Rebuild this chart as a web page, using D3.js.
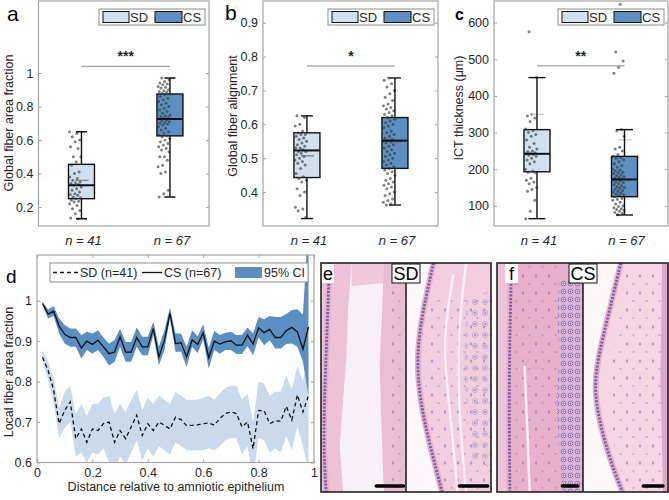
<!DOCTYPE html>
<html><head><meta charset="utf-8">
<script src="https://cdn.jsdelivr.net/npm/d3@7"></script>
<style>body{margin:0;background:#fff}svg{display:block;font-family:"Liberation Sans",Arial,sans-serif}</style>
</head><body><svg id="c" width="669" height="500"></svg>
<script>
// ---------------- DATA ----------------
const groups = ["SD", "CS"];
const nLabels = ["n = 41", "n = 67"];

// panel a: global fiber area fraction (individual samples)
const aSD = [0.65,0.64,0.62,0.60,0.59,0.56,0.55,0.50,0.50,0.47,0.45,0.41,0.40,0.38,0.37,0.36,0.35,0.345,0.34,0.335,0.33,0.32,0.31,0.30,0.29,0.28,0.275,0.27,0.26,0.255,0.25,0.24,0.235,0.23,0.22,0.21,0.19,0.18,0.16,0.135,0.13];
const aCS = [0.97,0.96,0.95,0.94,0.935,0.93,0.92,0.915,0.91,0.90,0.895,0.89,0.885,0.88,0.875,0.87,0.86,0.85,0.84,0.83,0.82,0.81,0.80,0.79,0.78,0.77,0.76,0.75,0.745,0.74,0.735,0.73,0.725,0.72,0.715,0.71,0.705,0.70,0.695,0.69,0.68,0.67,0.66,0.65,0.64,0.63,0.625,0.62,0.61,0.60,0.59,0.58,0.57,0.56,0.55,0.54,0.53,0.50,0.50,0.48,0.45,0.44,0.41,0.40,0.30,0.28,0.26];
// box stats: [whiskerLow, q1, median, q3, whiskerHigh, mean]
const aStatsSD = [0.13, 0.25, 0.33, 0.455, 0.65, 0.36];
const aStatsCS = [0.26, 0.625, 0.725, 0.875, 0.97, 0.725];
const aTicks = [0.2, 0.4, 0.6, 0.8, 1];
const aSig = [1.04, "***"];

// panel b: global fiber alignment
const bSD = [0.625,0.62,0.60,0.595,0.58,0.575,0.57,0.57,0.565,0.56,0.555,0.55,0.545,0.54,0.535,0.53,0.53,0.525,0.52,0.52,0.515,0.51,0.505,0.50,0.495,0.49,0.485,0.48,0.47,0.455,0.445,0.44,0.435,0.43,0.41,0.40,0.39,0.355,0.35,0.345,0.325];
const bCS = [0.737,0.73,0.72,0.71,0.70,0.69,0.68,0.67,0.66,0.655,0.65,0.645,0.64,0.635,0.63,0.625,0.62,0.615,0.61,0.605,0.60,0.595,0.59,0.58,0.575,0.57,0.565,0.56,0.555,0.552,0.55,0.548,0.545,0.54,0.535,0.53,0.525,0.52,0.515,0.51,0.505,0.50,0.495,0.49,0.485,0.48,0.475,0.47,0.465,0.46,0.455,0.45,0.44,0.435,0.43,0.425,0.42,0.415,0.41,0.40,0.395,0.39,0.38,0.375,0.37,0.365,0.362];
const bStatsSD = [0.322, 0.443, 0.523, 0.575, 0.625, 0.507];
const bStatsCS = [0.362, 0.47, 0.552, 0.62, 0.737, 0.548];
const bTicks = [0.4, 0.5, 0.6, 0.7, 0.8, 0.9];
const bSig = [0.772, "*"];

// panel c: ICT thickness (um)
const cSD = [575,450,350,345,340,330,310,305,300,295,290,280,270,260,255,250,248,245,243,242,240,238,235,230,225,220,215,200,195,192,190,175,170,165,160,150,145,140,115,85,65];
const cCS = [650,520,495,478,462,308,305,290,260,255,250,240,235,232,230,225,220,215,210,205,200,198,195,192,190,188,185,182,180,178,175,173,172,170,168,165,163,160,158,155,152,150,148,145,142,140,138,135,132,130,128,125,120,118,115,110,105,100,98,95,92,90,88,85,82,80,76];
const cStatsSD = [65, 193, 242, 308, 450, 350];
const cStatsCS = [75, 125, 172, 235, 308, 280];
const cTicks = [100, 200, 300, 400, 500, 600];
const cSig = [482, "**"];

// panel d: local fiber area fraction vs relative distance
const dX = [0.02,0.04,0.06,0.08,0.10,0.12,0.14,0.16,0.18,0.20,0.22,0.24,0.26,0.28,0.30,0.32,0.34,0.36,0.38,0.40,0.42,0.44,0.46,0.48,0.50,0.52,0.54,0.56,0.58,0.60,0.62,0.64,0.66,0.68,0.70,0.72,0.74,0.76,0.78,0.80,0.82,0.84,0.86,0.88,0.90,0.92,0.94,0.96,0.98];
const csMean = [0.993,0.967,0.974,0.937,0.917,0.909,0.909,0.883,0.900,0.892,0.902,0.886,0.869,0.873,0.911,0.873,0.873,0.909,0.886,0.886,0.931,0.861,0.902,0.969,0.894,0.896,0.861,0.903,0.892,0.920,0.859,0.900,0.893,0.898,0.901,0.890,0.890,0.915,0.893,0.933,0.921,0.929,0.909,0.909,0.926,0.934,0.923,0.880,0.935];
const csHi = [0.997,0.978,0.987,0.956,0.940,0.931,0.931,0.915,0.923,0.919,0.927,0.909,0.894,0.902,0.931,0.898,0.898,0.934,0.911,0.911,0.948,0.886,0.927,0.983,0.919,0.919,0.886,0.927,0.912,0.942,0.883,0.925,0.915,0.921,0.923,0.915,0.915,0.934,0.919,0.960,0.954,0.962,0.960,0.960,0.967,0.977,0.979,0.965,1.200];
const csLo = [0.989,0.956,0.962,0.919,0.894,0.886,0.886,0.857,0.878,0.869,0.878,0.861,0.840,0.849,0.886,0.849,0.849,0.886,0.865,0.865,0.915,0.840,0.878,0.956,0.874,0.874,0.836,0.886,0.871,0.904,0.832,0.879,0.869,0.878,0.878,0.868,0.868,0.888,0.865,0.909,0.890,0.902,0.882,0.882,0.893,0.894,0.886,0.850,0.765];
const sdMean = [0.860,0.828,0.779,0.696,0.729,0.750,0.659,0.683,0.650,0.683,0.679,0.696,0.700,0.650,0.679,0.659,0.688,0.717,0.667,0.696,0.679,0.700,0.692,0.683,0.712,0.706,0.691,0.692,0.693,0.696,0.698,0.692,0.709,0.721,0.725,0.721,0.688,0.700,0.634,0.729,0.728,0.696,0.703,0.702,0.739,0.705,0.767,0.725,0.765];
const sdHi = [0.878,0.850,0.810,0.735,0.775,0.790,0.720,0.745,0.715,0.745,0.745,0.760,0.765,0.720,0.745,0.725,0.755,0.780,0.730,0.760,0.745,0.765,0.755,0.745,0.775,0.765,0.755,0.755,0.755,0.760,0.765,0.755,0.770,0.785,0.790,0.790,0.755,0.770,0.700,0.800,0.795,0.765,0.775,0.775,0.815,0.780,0.840,0.800,0.870];
const sdLo = [0.848,0.805,0.745,0.660,0.685,0.700,0.615,0.625,0.600,0.625,0.620,0.635,0.600,0.575,0.615,0.595,0.625,0.655,0.605,0.635,0.615,0.640,0.630,0.620,0.650,0.640,0.630,0.630,0.630,0.630,0.635,0.630,0.640,0.655,0.660,0.660,0.620,0.640,0.560,0.660,0.655,0.625,0.635,0.625,0.665,0.630,0.690,0.640,0.580];
const dYTicks = [0.6, 0.7, 0.8, 0.9, 1];
const dXTicks = [0, 0.2, 0.4, 0.6, 0.8, 1];
const dLegend = ["SD (n=41)", "CS (n=67)", "95% CI"];

// ---------------- STYLE ----------------
const C_SD = "#cfe0ee", C_CS = "#5d90c2", C_BAND_SD = "#c8daeb", C_BAND_CS = "#5a8fc3";
const C_FRAME = "#a3a3a3", C_TXT = "#262626";
const svg = d3.select("#c");
const defs = svg.append("defs");

// ---------------- BOX PANELS ----------------
const boxPanels = [
  {L:38.5, R:209, T:1, B:226, dom:[0.087,1.43], ticks:aTicks, data:[aSD,aCS], stats:[aStatsSD,aStatsCS], sig:aSig,
   cx:[0.252,0.771], ylab:"Global fiber area fraction", ylabX:13, ylabY:123, letter:"a", lx:7, ly:21, lsize:21, lweight:400,
   cap:11, meanCol:"#6b6b6b"},
  {L:263, R:438, T:1, B:226, dom:[0.3,0.964], ticks:bTicks, data:[bSD,bCS], stats:[bStatsSD,bStatsCS], sig:bSig,
   cx:[0.251,0.754], ylab:"Global fiber alignment", ylabX:237, ylabY:116, letter:"b", lx:225, ly:20, lsize:21, lweight:400,
   cap:12, meanCol:"#6b6b6b"},
  {L:494, R:668, T:1, B:226, dom:[45,659], ticks:cTicks, data:[cSD,cCS], stats:[cStatsSD,cStatsCS], sig:cSig,
   cx:[0.247,0.75], ylab:"ICT thickness (\u03bcm)", ylabX:463, ylabY:108, letter:"c", lx:455, ly:20, lsize:16, lweight:700,
   cap:17, meanCol:"#c4c4c4"}
];

boxPanels.forEach((p, pi) => {
  const g = svg.append("g");
  const y = d3.scaleLinear().domain(p.dom).range([p.B, p.T]);
  const w = p.R - p.L;
  const x = d3.scalePoint().domain(groups).range([p.L + p.cx[0]*w, p.L + p.cx[1]*w]);
  const cid = "clipbox" + pi;
  defs.append("clipPath").attr("id", cid).append("rect").attr("x", p.L).attr("y", p.T).attr("width", w).attr("height", p.B - p.T);

  const ay = g.append("g").attr("transform", `translate(${p.L},0)`)
    .call(d3.axisLeft(y).tickValues(p.ticks).tickSize(-3).tickPadding(5).tickFormat(d3.format("~g")));
  ay.select(".domain").remove();
  ay.selectAll("line").attr("stroke", C_FRAME);
  ay.selectAll("text").attr("fill", C_TXT).style("font-size", "12.5px");
  const ar = g.append("g").attr("transform", `translate(${p.R},0)`)
    .call(d3.axisRight(y).tickValues(p.ticks).tickSize(-3).tickFormat(""));
  ar.select(".domain").remove();
  ar.selectAll("line").attr("stroke", C_FRAME);

  const bw = 26;
  groups.forEach((grp, gi) => {
    const s = p.stats[gi];
    const cx = x(grp);
    const bg = g.append("g").attr("clip-path", `url(#${cid})`);
    bg.append("rect").attr("x", cx - bw/2).attr("y", y(s[3])).attr("width", bw).attr("height", y(s[1]) - y(s[3]))
      .attr("fill", gi === 0 ? C_SD : C_CS).attr("stroke", "#111").attr("stroke-width", 1.4);
    bg.selectAll(null).data(p.data[gi]).join("circle")
      .attr("cx", (d, i) => cx - 12 + 12 * ((i * 0.6180339 + gi * 0.31 + pi * 0.17) % 1))
      .attr("cy", d => y(d)).attr("r", 1.5)
      .attr("fill", "#333").attr("fill-opacity", 0.62);
    bg.append("line").attr("x1", cx - 6).attr("x2", cx + 7).attr("y1", y(s[5])).attr("y2", y(s[5]))
      .attr("stroke", p.meanCol).attr("stroke-width", 1.1);
    bg.append("line").attr("x1", cx - bw/2).attr("x2", cx + bw/2).attr("y1", y(s[2])).attr("y2", y(s[2]))
      .attr("stroke", "#111").attr("stroke-width", 2);
    [[s[3], s[4]], [s[1], s[0]]].forEach(([a, b]) => {
      bg.append("line").attr("x1", cx).attr("x2", cx).attr("y1", y(a)).attr("y2", y(b)).attr("stroke", "#111").attr("stroke-width", 1.4);
      bg.append("line").attr("x1", cx - p.cap/2).attr("x2", cx + p.cap/2).attr("y1", y(b)).attr("y2", y(b)).attr("stroke", "#111").attr("stroke-width", 1.4);
    });
    g.append("text").attr("x", cx + 2).attr("y", 245).attr("text-anchor", "middle")
      .style("font-size", "13px").style("font-style", "italic").attr("fill", C_TXT).text(nLabels[gi]);
  });

  g.append("line").attr("x1", x("SD")).attr("x2", x("CS")).attr("y1", y(p.sig[0])).attr("y2", y(p.sig[0]))
    .attr("stroke", "#8a8a8a").attr("stroke-width", 1);
  g.append("text").attr("x", (x("SD") + x("CS"))/2).attr("y", y(p.sig[0]) - 5).attr("text-anchor", "middle")
    .style("font-size", "14px").style("font-weight", "bold").attr("fill", C_TXT).text(p.sig[1]);

  g.append("rect").attr("x", p.L).attr("y", p.T).attr("width", w).attr("height", p.B - p.T)
    .attr("fill", "none").attr("stroke", C_FRAME).attr("stroke-width", 1.2);

  const lx1 = p.R - 4, lx0 = lx1 - 106;
  const lg = g.append("g");
  lg.append("rect").attr("x", lx0).attr("y", 9).attr("width", 106).attr("height", 16).attr("fill", "#fff").attr("stroke", "#8c8c8c").attr("stroke-width", 1);
  lg.append("rect").attr("x", lx0 + 4).attr("y", 11.5).attr("width", 26).attr("height", 11).attr("fill", C_SD).attr("stroke", "#111");
  lg.append("text").attr("x", lx0 + 31).attr("y", 22).style("font-size", "13px").attr("fill", C_TXT).text(groups[0]);
  lg.append("rect").attr("x", lx0 + 56).attr("y", 11.5).attr("width", 27).attr("height", 11).attr("fill", C_CS).attr("stroke", "#111");
  lg.append("text").attr("x", lx0 + 84).attr("y", 22).style("font-size", "13px").attr("fill", C_TXT).text(groups[1]);

  g.append("text").attr("transform", `translate(${p.ylabX},${p.ylabY}) rotate(-90)`).attr("text-anchor", "middle")
    .style("font-size", "12.5px").attr("fill", C_TXT).text(p.ylab);
  g.append("text").attr("x", p.lx).attr("y", p.ly).style("font-size", p.lsize + "px").style("font-weight", p.lweight)
    .attr("fill", "#000").text(p.letter);
});

// ---------------- PANEL d ----------------
(function(){
  const L = 37, R = 314, T = 255, B = 462.5;
  const x = d3.scaleLinear().domain([0, 1]).range([L, R]);
  const y = d3.scaleLinear().domain([0.6, 1.113]).range([B, T]);
  const g = svg.append("g");
  defs.append("clipPath").attr("id", "clipd").append("rect").attr("x", L).attr("y", T).attr("width", R - L).attr("height", B - T);
  const pg = g.append("g").attr("clip-path", "url(#clipd)");
  const area = (hi, lo) => d3.area().x((d, i) => x(dX[i])).y0((d, i) => y(lo[i])).y1((d, i) => y(hi[i]))(dX);
  const line = arr => d3.line().x((d, i) => x(dX[i])).y((d, i) => y(arr[i]))(dX);
  pg.append("path").attr("d", area(sdHi, sdLo)).attr("fill", C_BAND_SD);
  pg.append("path").attr("d", area(csHi, csLo)).attr("fill", C_BAND_CS);
  pg.append("path").attr("d", line(sdMean)).attr("fill", "none").attr("stroke", "#111").attr("stroke-width", 1.3).attr("stroke-dasharray", "4,3");
  pg.append("path").attr("d", line(csMean)).attr("fill", "none").attr("stroke", "#111").attr("stroke-width", 1.3);

  const ay = g.append("g").attr("transform", `translate(${L},0)`).call(d3.axisLeft(y).tickValues(dYTicks).tickSize(-3).tickPadding(5).tickFormat(d3.format("~g")));
  const ar = g.append("g").attr("transform", `translate(${R},0)`).call(d3.axisRight(y).tickValues(dYTicks).tickSize(-3).tickFormat(""));
  const ax = g.append("g").attr("transform", `translate(0,${B})`).call(d3.axisBottom(x).tickValues(dXTicks).tickSize(-3).tickPadding(6).tickFormat(d3.format("~g")));
  const at = g.append("g").attr("transform", `translate(0,${T})`).call(d3.axisTop(x).tickValues(dXTicks).tickSize(-3).tickFormat(""));
  [ay, ar, ax, at].forEach(a => { a.select(".domain").remove(); a.selectAll("line").attr("stroke", C_FRAME); a.selectAll("text").attr("fill", C_TXT).style("font-size", "12.5px"); });
  g.append("rect").attr("x", L).attr("y", T).attr("width", R - L).attr("height", B - T).attr("fill", "none").attr("stroke", C_FRAME).attr("stroke-width", 1.2);

  const lg = g.append("g");
  lg.append("rect").attr("x", 50).attr("y", 263).attr("width", 258).attr("height", 19).attr("fill", "#fff").attr("stroke", "#8c8c8c");
  lg.append("line").attr("x1", 53).attr("x2", 78).attr("y1", 272.5).attr("y2", 272.5).attr("stroke", "#111").attr("stroke-width", 1.3).attr("stroke-dasharray", "4,3");
  lg.append("text").attr("x", 80).attr("y", 277).style("font-size", "12.5px").attr("fill", C_TXT).text(dLegend[0]);
  lg.append("line").attr("x1", 142).attr("x2", 162).attr("y1", 272.5).attr("y2", 272.5).attr("stroke", "#111").attr("stroke-width", 1.3);
  lg.append("text").attr("x", 164).attr("y", 277).style("font-size", "12.5px").attr("fill", C_TXT).text(dLegend[1]);
  lg.append("rect").attr("x", 235).attr("y", 267).attr("width", 27).attr("height", 11).attr("fill", C_BAND_CS);
  lg.append("text").attr("x", 264).attr("y", 277).style("font-size", "12.5px").attr("fill", C_TXT).text(dLegend[2]);

  g.append("text").attr("x", 176).attr("y", 491).attr("text-anchor", "middle").style("font-size", "12.5px").attr("fill", C_TXT).text("Distance relative to amniotic epithelium");
  g.append("text").attr("transform", "translate(13,372) rotate(-90)").attr("text-anchor", "middle").style("font-size", "12.5px").attr("fill", C_TXT).text("Local fiber area fraction");
  g.append("text").attr("x", 6).attr("y", 283).style("font-size", "19px").attr("fill", "#000").text("d");
})();

// ---------------- PANELS e, f (stylised H&E micrographs) ----------------
(function(){
  const p1 = defs.append("pattern").attr("id", "cellsSparse").attr("width", 13).attr("height", 17).attr("patternUnits", "userSpaceOnUse");
  p1.append("ellipse").attr("cx", 3).attr("cy", 4).attr("rx", 1.1).attr("ry", 1.8).attr("fill", "#7666b6").attr("opacity", 0.5);
  p1.append("ellipse").attr("cx", 9.5).attr("cy", 12).attr("rx", 1.3).attr("ry", 1.1).attr("fill", "#8070bd").attr("opacity", 0.4);
  const p2 = defs.append("pattern").attr("id", "cellsDense").attr("width", 7).attr("height", 8).attr("patternUnits", "userSpaceOnUse");
  p2.append("rect").attr("width", 7).attr("height", 8).attr("fill", "#dfb2d2");
  p2.append("circle").attr("cx", 3.5).attr("cy", 3.5).attr("r", 2.3).attr("fill", "#efdcec").attr("stroke", "#6e58aa").attr("stroke-width", 0.9).attr("opacity", 0.85);
  p2.append("circle").attr("cx", 3.5).attr("cy", 3.5).attr("r", 0.9).attr("fill", "#5b469d").attr("opacity", 0.8);
  const p3 = defs.append("pattern").attr("id", "cellsRound").attr("width", 10).attr("height", 11).attr("patternUnits", "userSpaceOnUse");
  p3.append("circle").attr("cx", 5).attr("cy", 5).attr("r", 2.4).attr("fill", "#f4e8f1").attr("stroke", "#8b7cc2").attr("stroke-width", 0.8).attr("opacity", 0.7);
  p3.append("circle").attr("cx", 5).attr("cy", 5).attr("r", 0.9).attr("fill", "#5f50a3").attr("opacity", 0.7);

  const Y0 = 263, Y1 = 492;
  const subs = [
    {x0:321, x1:406, bg:"#f9f0f5",
     layers:[
       {pts:[[0,0],[0.36,0],[0.32,0.2],[0.3,0.4],[0.26,0.6],[0.22,0.8],[0.26,1],[0,1]], fill:"#edc2d6"},
       {pts:[[0.36,0],[1,0],[1,0.08],[0.36,0.1]], fill:"#efc9da"},
       {pts:[[0.74,0],[1,0],[1,1],[0.74,1],[0.71,0.7],[0.69,0.45],[0.72,0.2]], fill:"#ebbdd2"},
       {pts:[[0.8,0.1],[1,0.1],[1,0.95],[0.82,0.95],[0.78,0.6],[0.78,0.3]], fill:"url(#cellsSparse)"}
     ],
     epi:[[0.1,0],[0.08,0.2],[0.06,0.4],[0.04,0.6],[0.03,0.8],[0.06,1]],
     streaks:[[[0.45,0.1],[0.5,0.4],[0.58,0.6],[0.62,1]]],
     bar:[0.65,0.97]},
    {x0:406, x1:492, bg:"#fcf7fa",
     layers:[
       {pts:[[0.32,0],[1,0],[1,1],[0.42,1],[0.28,0.8],[0.16,0.6],[0.12,0.4],[0.2,0.2]], fill:"#f1cddd"},
       {pts:[[0.3,0.15],[1,0.15],[1,1],[0.45,1],[0.32,0.8],[0.22,0.55]], fill:"url(#cellsSparse)"},
       {pts:[[0.7,0.15],[1,0.12],[1,0.9],[0.74,0.85],[0.68,0.5]], fill:"url(#cellsRound)"}
     ],
     epi:[[0.32,0],[0.2,0.2],[0.12,0.4],[0.16,0.6],[0.28,0.8],[0.42,1]],
     streaks:[[[0.55,0.05],[0.42,0.35],[0.5,0.6],[0.6,1]],[[0.7,0.0],[0.6,0.3],[0.62,0.7],[0.7,1]]],
     bar:[0.62,0.95]},
    {x0:497, x1:583, bg:"#e9b0cb",
     layers:[
       {pts:[[0,0],[0.12,0],[0.11,1],[0,1]], fill:"#efc3d7"},
       {pts:[[0.2,0],[0.7,0],[0.72,1],[0.2,1]], fill:"url(#cellsSparse)"},
       {pts:[[0.72,0.08],[1,0.06],[1,1],[0.76,1],[0.72,0.8],[0.69,0.6],[0.73,0.4],[0.7,0.25]], fill:"url(#cellsDense)"}
     ],
     epi:[[0.17,0],[0.15,0.3],[0.14,0.6],[0.15,1]],
     streaks:[[[0.32,0.45],[0.35,0.7],[0.38,1]]],
     bar:[0.76,0.94]},
    {x0:583, x1:669, bg:"#fcf8fa",
     layers:[
       {pts:[[0.44,0],[1,0],[1,1],[0.46,1],[0.3,0.85],[0.13,0.6],[0.15,0.45],[0.3,0.22]], fill:"#f5d6e2"},
       {pts:[[0.5,0.05],[1,0.05],[1,1],[0.5,1],[0.3,0.7],[0.35,0.4]], fill:"url(#cellsSparse)"},
       {pts:[[0.92,0],[1,0],[1,1],[0.93,1],[0.9,0.5]], fill:"#dcaac8"}
     ],
     epi:[[0.44,0],[0.3,0.22],[0.15,0.45],[0.13,0.6],[0.3,0.85],[0.46,1]],
     streaks:[],
     bar:[0.7,0.93]}
  ];
  subs.forEach((s, i) => {
    const w = s.x1 - s.x0, h = Y1 - Y0;
    const X = f => s.x0 + f * w, Yp = f => Y0 + f * h;
    const id = "clipH" + i;
    defs.append("clipPath").attr("id", id).append("rect").attr("x", s.x0).attr("y", Y0).attr("width", w).attr("height", h);
    const g = svg.append("g").attr("clip-path", `url(#${id})`);
    g.append("rect").attr("x", s.x0).attr("y", Y0).attr("width", w).attr("height", h).attr("fill", s.bg);
    const poly = d3.line().x(d => X(d[0])).y(d => Yp(d[1])).curve(d3.curveLinearClosed);
    s.layers.forEach(l => g.append("path").attr("d", poly(l.pts)).attr("fill", l.fill));
    const curve = d3.line().x(d => X(d[0])).y(d => Yp(d[1])).curve(d3.curveBasis);
    s.streaks.forEach(st => g.append("path").attr("d", curve(st)).attr("fill", "none").attr("stroke", "#fbeff5").attr("stroke-width", 2.5));
    g.append("path").attr("d", curve(s.epi)).attr("fill", "none").attr("stroke", "#e6b0ca").attr("stroke-width", 6);
    g.append("path").attr("d", curve(s.epi)).attr("fill", "none").attr("stroke", "#6f58aa").attr("stroke-width", 2.8).attr("stroke-dasharray", "2.2,1.3").attr("opacity", 0.9);
    g.append("line").attr("x1", X(s.bar[0])).attr("x2", X(s.bar[1])).attr("y1", Y1 - 6).attr("y2", Y1 - 6)
      .attr("stroke", "#000").attr("stroke-width", 3.5).attr("stroke-linecap", "round");
  });
  [[321, 492, 406], [497, 669, 583]].forEach(([a, b, m]) => {
    svg.append("rect").attr("x", a).attr("y", Y0).attr("width", b - a - 1).attr("height", Y1 - Y0).attr("fill", "none").attr("stroke", "#222").attr("stroke-width", 1.6);
    svg.append("line").attr("x1", m).attr("x2", m).attr("y1", Y0).attr("y2", Y1).attr("stroke", "#222").attr("stroke-width", 1.6);
  });
  const lab = (x0, x1, t, box) => {
    svg.append("rect").attr("x", x0).attr("y", 264).attr("width", x1 - x0).attr("height", 19).attr("fill", "#fff")
      .attr("stroke", box ? "#111" : "none").attr("stroke-width", 1);
    svg.append("text").attr("x", (x0 + x1)/2).attr("y", 280).attr("text-anchor", "middle").style("font-size", "18px").attr("fill", "#000").text(t);
  };
  lab(322, 334, "e", false);
  lab(392, 420, "SD", true);
  lab(505, 518, "f", false);
  lab(569, 597, "CS", true);
})();
</script></body></html>
